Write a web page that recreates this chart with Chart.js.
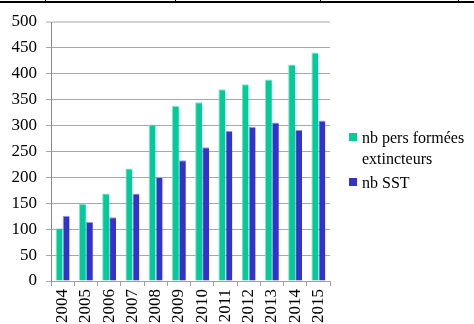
<!DOCTYPE html>
<html>
<head>
<meta charset="utf-8">
<script src="https://cdn.jsdelivr.net/npm/chart.js@4/dist/chart.umd.min.js"></script>
<style>
  html, body { margin: 0; padding: 0; background: #fff; }
  #wrap { position: relative; width: 474px; height: 324px; overflow: hidden; }
  #c { position: absolute; left: 0; top: 0; }
  .rule { position: absolute; left: 0; top: 1px; width: 474px; height: 2px; background: #000; }
  .cell { position: absolute; top: 0; width: 1px; height: 3px; background: #000; }
  #legend { position: absolute; left: 349px; top: 128px; font-family: "Liberation Serif", Tinos, "Times New Roman", "DejaVu Serif", serif; font-size: 16px; color: #000; }
  #legend .item { position: relative; padding-left: 13px; line-height: 20.5px; }
  #legend .box { position: absolute; left: 0; top: 4.5px; width: 8px; height: 8px; }
</style>
</head>
<body>
<div id="wrap">
  <canvas id="c" width="474" height="324"></canvas>
  <div class="rule"></div>
  <div class="cell" style="left:45px"></div>
  <div class="cell" style="left:175px"></div>
  <div class="cell" style="left:320px"></div>
  <div class="cell" style="left:458px"></div>
  <div id="legend"></div>
</div>
<script>
// Years and yearly counts
const years = ['2004','2005','2006','2007','2008','2009','2010','2011','2012','2013','2014','2015'];
const formesExtincteurs = [102, 149, 169, 217, 302, 338, 345, 370, 380, 389, 418, 441];
const sst = [126, 114, 123, 169, 201, 233, 258, 290, 298, 306, 292, 310];
const seriesNames = [['nb pers formées', 'extincteurs'], ['nb SST']];
const seriesColors = ['#00CC99', '#3333CC'];
const seriesEdges = ['#7fe6cc', '#9a9ae6'];

const serif = '"Liberation Serif", Tinos, "Times New Roman", "DejaVu Serif", serif';

const chart = new Chart(document.getElementById('c'), {
  type: 'bar',
  data: {
    labels: years,
    datasets: [
      { label: seriesNames[0].join(' '), data: formesExtincteurs, backgroundColor: seriesColors[0],
        borderColor: seriesEdges[0], borderWidth: { top: 1, left: 1, right: 0, bottom: 0 } },
      { label: seriesNames[1].join(' '), data: sst, backgroundColor: seriesColors[1],
        borderColor: seriesEdges[1], borderWidth: { top: 1, left: 1, right: 0, bottom: 0 } }
    ]
  },
  options: {
    responsive: false,
    animation: false,
    devicePixelRatio: 1,
    layout: { padding: { left: 0, right: 144, top: 22, bottom: 0 } },
    categoryPercentage: 0.6,
    barPercentage: 1.0,
    plugins: { legend: { display: false }, tooltip: { enabled: false } },
    scales: {
      x: {
        afterFit: s => { s.height = 43; },
        grid: { drawOnChartArea: false, drawTicks: true, tickLength: 5, color: '#a0a0a0', offset: true },
        border: { display: true, color: '#a0a0a0', width: 1 },
        ticks: { autoSkip: false, minRotation: 90, maxRotation: 90, padding: 3, color: '#000',
                 font: { family: serif, size: 17 } }
      },
      y: {
        min: 0, max: 500,
        afterFit: s => { s.width = 51; },
        ticks: { stepSize: 50, padding: 9, color: '#000', font: { family: serif, size: 17 } },
        grid: {
          tickLength: 5,
          color: ctx => ctx.tick && ctx.tick.value === 500 ? '#d2d2d2' : '#a8a8a8',
          lineWidth: ctx => ctx.tick && ctx.tick.value === 500 ? 2 : 1
        },
        border: { display: true, color: '#888888', width: 1 }
      }
    }
  }
});

// Legend built from the dataset names and colours
const legend = document.getElementById('legend');
seriesNames.forEach((lines, i) => {
  const item = document.createElement('div');
  item.className = 'item';
  const box = document.createElement('span');
  box.className = 'box';
  box.style.background = seriesColors[i];
  item.appendChild(box);
  item.appendChild(document.createTextNode(lines[0]));
  for (let k = 1; k < lines.length; k++) {
    item.appendChild(document.createElement('br'));
    item.appendChild(document.createTextNode(lines[k]));
  }
  if (i === 0) item.style.marginBottom = '4px';
  legend.appendChild(item);
});
</script>
</body>
</html>
